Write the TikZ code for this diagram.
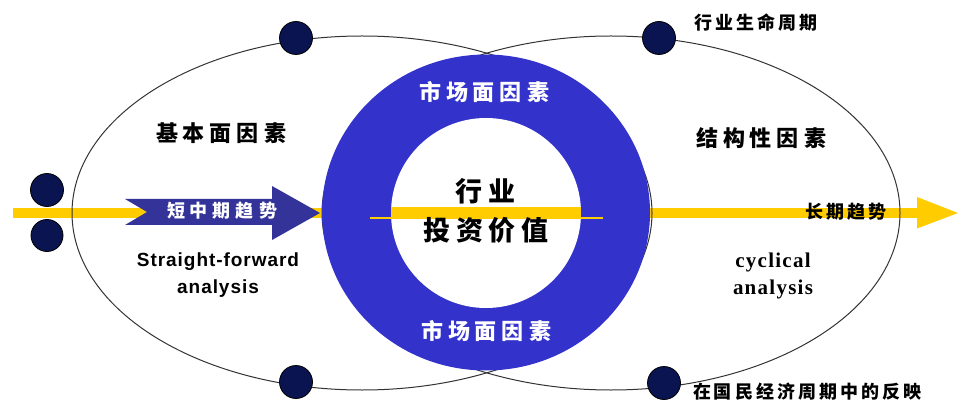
\documentclass[tikz,border=0pt]{standalone}
\usepackage{fontspec}
\setmainfont{Liberation Serif}
\newfontfamily\cjk{Noto Sans CJK SC}
\newfontfamily\arialb[LetterSpace=5, UprightFont=* Bold]{Liberation Sans}
\newfontfamily\timesb[LetterSpace=6, UprightFont=* Bold]{Liberation Serif}
\makeatletter
\newcommand\spc[2]{\spc@i{#1}#2\relax}
\def\spc@i#1#2#3\relax{#2\ifx\relax#3\relax\else\hspace{#1}\spc@i{#1}#3\relax\fi}
\makeatother
\definecolor{ringblue}{HTML}{3333CC}
\definecolor{arrowblue}{HTML}{333399}
\definecolor{gold}{HTML}{FFCC00}
\definecolor{navy}{HTML}{0A1450}
\definecolor{edge}{HTML}{333333}
\tikzset{
  dot/.style={circle, fill=navy, draw=black, line width=0.8pt, minimum size=33pt, inner sep=0pt},
  cjkl/.style={font=\fontsize{22}{24}\cjk\bfseries, inner sep=0pt},
  cjkxl/.style={font=\fontsize{27}{30}\cjk\bfseries, inner sep=0pt},
  cjks/.style={font=\fontsize{18}{20}\cjk\bfseries, inner sep=0pt},
  outline/.style={draw=edge, line width=1pt},
}
\begin{document}
\begin{tikzpicture}[x=1pt,y=-1pt]
\useasboundingbox (0,0) rectangle (960,403);
% long yellow trend band
\fill[gold] (13,208) rectangle (918,218.5);
\fill[gold] (917,197) -- (958,213) -- (917,228.5) -- cycle;
% two overlapping ellipses
\draw[outline] (362,213) ellipse [x radius=290, y radius=177];
\draw[outline] (611,213) ellipse [x radius=289, y radius=177];
% ring
\fill[ringblue] (486,212.5) ellipse [x radius=164, y radius=158];
\fill[white] (486,213) circle [radius=95];
\begin{scope}
  \clip (486,213) circle [radius=95];
  \fill[gold] (380,207) rectangle (600,217);
\end{scope}
\draw[gold, line width=1.5pt] (370,218) -- (603,218);
% short/medium trend arrow
\fill[arrowblue] (125,199) -- (147,212) -- (125,225) -- (272,225) -- (272,240)
  -- (320,213) -- (272,186) -- (272,199) -- cycle;
% dots
\node[dot] (d1) at (296,38) {};
\node[dot] (d2) at (659,38) {};
\node[dot] (d3) at (296,382) {};
\node[dot] (d4) at (664,383) {};
\node[dot] (d5) at (47,190) {};
\node[dot, minimum size=32pt] (d6) at (47,235.5) {};
% texts
\node[cjkl] (jbm) at (221,133) {\spc{5pt}{基本面因素}};
\node[cjkl] (jgx) at (761,138) {\spc{5pt}{结构性因素}};
\node[cjkl, text=white] (sc1) at (484,92) {\spc{5pt}{市场面因素}};
\node[cjkl, text=white] (sc2) at (486,331) {\spc{5pt}{市场面因素}};
\node[cjkxl] (hy) at (485,191) {\spc{6pt}{行业}};
\node[cjkxl] (tz) at (486,230) {\spc{6pt}{投资价值}};
\node[cjks, text=white] (dz) at (222,211) {\spc{5pt}{短中期趋势}};
\node[cjks] (cq) at (846,212) {\spc{3pt}{长期趋势}};
\node[cjks] (sm) at (756,23) {\spc{3pt}{行业生命周期}};
\node[cjks] (gm) at (807,392) {\spc{3pt}{在国民经济周期中的反映}};
\node[font=\fontsize{19}{27}\arialb, align=center, inner sep=0pt] (sf) at (218,275) {Straight-forward\\analysis};
\node[font=\fontsize{21}{27}\timesb, align=center, inner sep=0pt] (cy) at (773,276) {cyclical\\analysis};
\end{tikzpicture}
\end{document}
